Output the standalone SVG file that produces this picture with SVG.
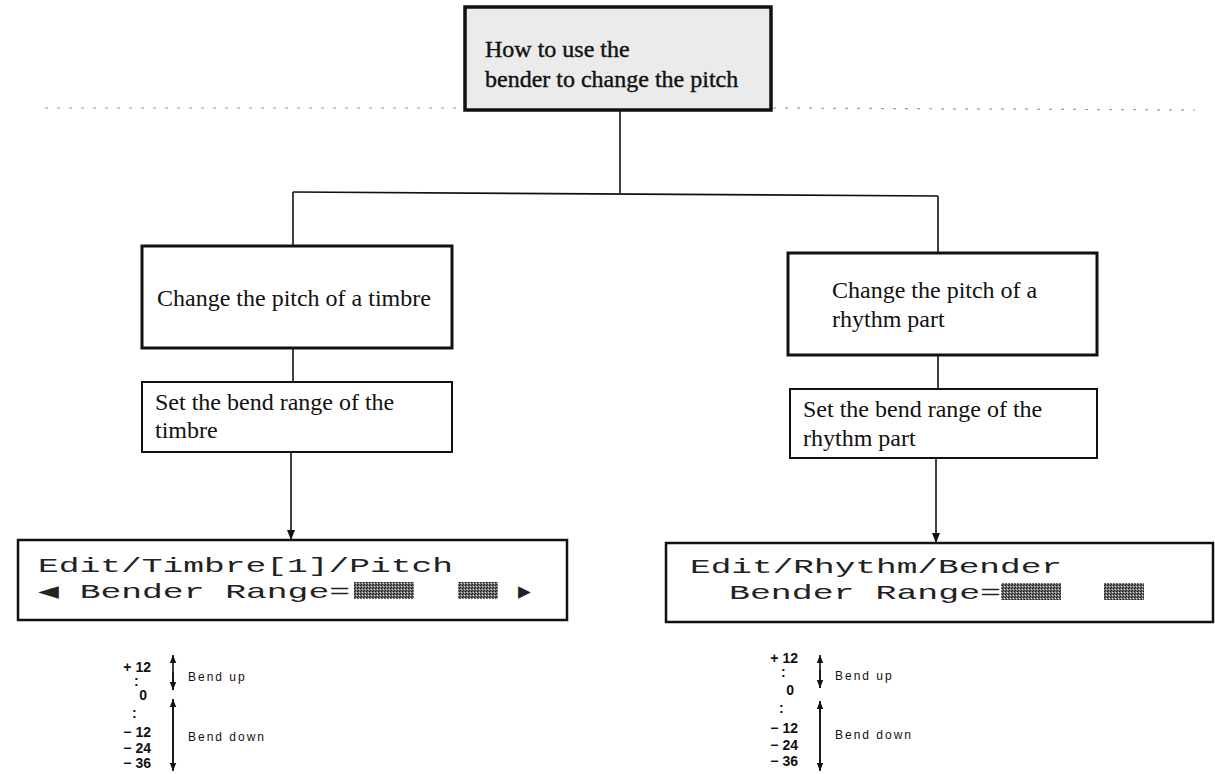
<svg xmlns="http://www.w3.org/2000/svg" width="1215" height="774" viewBox="0 0 1215 774">
<style>
.box{fill:#fff;stroke:#111;stroke-width:3}
.sbox{fill:#fff;stroke:#111;stroke-width:2}
.lcd{fill:#fff;stroke:#111;stroke-width:2.5}
.t{font-family:"Liberation Serif","Times New Roman",serif;font-size:24px;fill:#111}
.m{font-family:"Liberation Mono","DejaVu Sans Mono",monospace;font-size:21px;fill:#222}
.n{font-family:"Liberation Sans",Arial,sans-serif;font-size:14px;font-weight:bold;fill:#111}
.b{font-family:"Liberation Sans",Arial,sans-serif;font-size:12px;fill:#111;letter-spacing:2px}
.c{fill:none;stroke:#111;stroke-width:1.6}
.d{fill:none;stroke:#999;stroke-width:1.2;stroke-dasharray:3 9}
</style>
<defs>
<marker id="ah" viewBox="0 0 10 10" refX="10" refY="5" markerWidth="10" markerHeight="10" markerUnits="userSpaceOnUse" orient="auto"><path d="M0,1 L10,5 L0,9 Z" fill="#111"/></marker>
<marker id="sh" viewBox="0 0 10 10" refX="10" refY="5" markerWidth="8" markerHeight="8" markerUnits="userSpaceOnUse" orient="auto"><path d="M0,1 L10,5 L0,9 Z" fill="#111"/></marker>
<pattern id="dith" width="3" height="3" patternUnits="userSpaceOnUse"><rect width="3" height="3" fill="#6f6f6f"/><rect x="0" y="0" width="1" height="1" fill="#111"/><rect x="2" y="1" width="1" height="1" fill="#ddd"/><rect x="1" y="2" width="1" height="1" fill="#222"/></pattern>
</defs>

<g id="artifacts">
<line class="d" x1="45" y1="108" x2="465" y2="108"/>
<line class="d" x1="773" y1="108" x2="1195" y2="110"/>
</g>

<g id="connectors">
<line class="c" x1="620" y1="110" x2="620" y2="193"/>
<line class="c" x1="293" y1="192" x2="938" y2="196"/>
<line class="c" x1="293" y1="192" x2="293" y2="246"/>
<line class="c" x1="938" y1="196" x2="938" y2="253"/>
<line class="c" x1="293" y1="348" x2="293" y2="382"/>
<line class="c" x1="938" y1="355" x2="938" y2="389"/>
<line class="c" x1="291" y1="452" x2="291" y2="540" marker-end="url(#ah)"/>
<line class="c" x1="936" y1="458" x2="936" y2="543" marker-end="url(#ah)"/>
</g>

<g id="n-top">
<rect x="465" y="7" width="306" height="103" fill="#ebebeb" stroke="#111" stroke-width="3.5"/>
<text class="t" x="485" y="57" stroke="#111" stroke-width="0.4">How to use the</text>
<text class="t" x="485" y="87" stroke="#111" stroke-width="0.4">bender to change the pitch</text>
</g>

<g id="n-timbre">
<rect class="box" x="142" y="246" width="310" height="102"/>
<text class="t" x="157" y="306">Change the pitch of a timbre</text>
</g>

<g id="n-rhythm">
<rect class="box" x="788" y="253" width="309" height="102"/>
<text class="t" x="832" y="298">Change the pitch of a</text>
<text class="t" x="832" y="327">rhythm part</text>
</g>

<g id="n-set-timbre">
<rect class="sbox" x="142" y="382" width="310" height="70"/>
<text class="t" x="155" y="410">Set the bend range of the</text>
<text class="t" x="155" y="438">timbre</text>
</g>

<g id="n-set-rhythm">
<rect class="sbox" x="790" y="389" width="307" height="69"/>
<text class="t" x="803" y="417">Set the bend range of the</text>
<text class="t" x="803" y="446">rhythm part</text>
</g>

<g id="n-lcd-timbre">
<rect class="lcd" x="18" y="540" width="549" height="80"/>
<text class="m" x="38" y="572" textLength="415" lengthAdjust="spacingAndGlyphs">Edit/Timbre[1]/Pitch</text>
<text class="m" x="38" y="598" textLength="312" lengthAdjust="spacingAndGlyphs">◀ Bender Range=</text>
<rect x="354" y="582" width="60" height="17" fill="url(#dith)"/>
<rect x="458" y="582" width="40" height="17" fill="url(#dith)"/>
<text class="m" x="518" y="598">▶</text>
</g>

<g id="n-lcd-rhythm">
<rect class="lcd" x="666" y="543" width="547" height="79"/>
<text class="m" x="690" y="573" textLength="372" lengthAdjust="spacingAndGlyphs">Edit/Rhythm/Bender</text>
<text class="m" x="729" y="599" textLength="272" lengthAdjust="spacingAndGlyphs">Bender Range=</text>
<rect x="1001" y="583" width="60" height="17" fill="url(#dith)"/>
<rect x="1104" y="583" width="40" height="17" fill="url(#dith)"/>
</g>

<g id="scale-timbre">
<text class="n" x="151" y="672" text-anchor="end">+ 12</text>
<text class="n" x="134" y="686">:</text>
<text class="n" x="147" y="700" text-anchor="end">0</text>
<text class="n" x="132" y="718">:</text>
<text class="n" x="151" y="737" text-anchor="end">− 12</text>
<text class="n" x="151" y="753" text-anchor="end">− 24</text>
<text class="n" x="151" y="768" text-anchor="end">− 36</text>
<line class="c" x1="173" y1="690" x2="173" y2="655" marker-end="url(#sh)"/>
<line class="c" x1="173" y1="672" x2="173" y2="690" marker-end="url(#sh)"/>
<line class="c" x1="173" y1="770" x2="173" y2="699" marker-end="url(#sh)"/>
<line class="c" x1="173" y1="699" x2="173" y2="771" marker-end="url(#sh)"/>
<text class="b" x="188" y="681">Bend up</text>
<text class="b" x="188" y="741">Bend down</text>
</g>

<g id="scale-rhythm">
<text class="n" x="798" y="663" text-anchor="end">+ 12</text>
<text class="n" x="781" y="677">:</text>
<text class="n" x="794" y="695" text-anchor="end">0</text>
<text class="n" x="779" y="713">:</text>
<text class="n" x="798" y="733" text-anchor="end">− 12</text>
<text class="n" x="798" y="750" text-anchor="end">− 24</text>
<text class="n" x="798" y="766" text-anchor="end">− 36</text>
<line class="c" x1="820" y1="688" x2="820" y2="655" marker-end="url(#sh)"/>
<line class="c" x1="820" y1="670" x2="820" y2="688" marker-end="url(#sh)"/>
<line class="c" x1="820" y1="770" x2="820" y2="701" marker-end="url(#sh)"/>
<line class="c" x1="820" y1="701" x2="820" y2="771" marker-end="url(#sh)"/>
<text class="b" x="835" y="680">Bend up</text>
<text class="b" x="835" y="739">Bend down</text>
</g>
</svg>
